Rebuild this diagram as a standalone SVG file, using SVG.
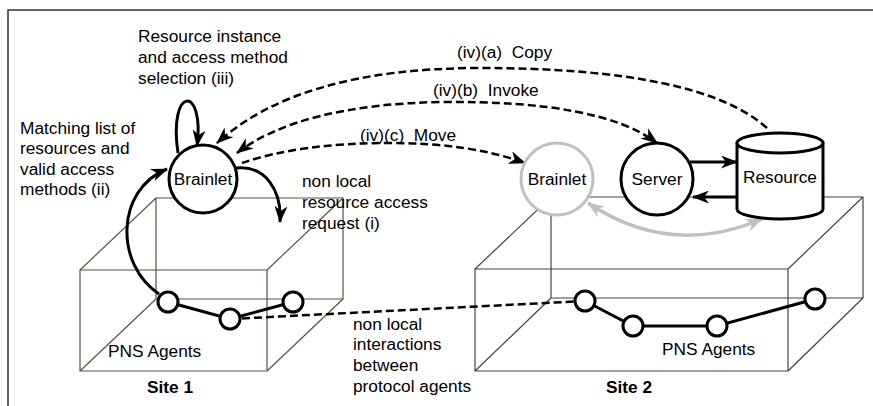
<svg xmlns="http://www.w3.org/2000/svg" width="873" height="406" viewBox="0 0 873 406">
<style>
text{font-family:"Liberation Sans",Arial,sans-serif;font-size:17.3px;fill:#000}
.b{font-weight:bold}
.mid{text-anchor:middle}
.box1{fill:none;stroke:#55553f;stroke-width:1.2}
.box2{fill:none;stroke:#444;stroke-width:1.2}
.node{fill:#fff;stroke:#000;stroke-width:3}
.gnode{fill:#fff;stroke:#c0c0c0;stroke-width:3}
.ag{fill:#fff;stroke:#000;stroke-width:3}
.solid{fill:none;stroke:#000;stroke-width:3}
.dash{fill:none;stroke:#000;stroke-width:2.5;stroke-dasharray:8 4}
.grey{fill:none;stroke:#c0c0c0;stroke-width:3.5}
</style>
<defs>
<marker id="ah" viewBox="0 0 17 13" refX="16" refY="6.5" markerWidth="17" markerHeight="13" markerUnits="userSpaceOnUse" orient="auto-start-reverse"><path d="M0,0 L17,6.5 L0,13 L5,6.5 z" fill="#000"/></marker>
<marker id="ahg" viewBox="0 0 17 13" refX="16" refY="6.5" markerWidth="17" markerHeight="13" markerUnits="userSpaceOnUse" orient="auto-start-reverse"><path d="M0,0 L17,6.5 L0,13 L5,6.5 z" fill="#c0c0c0"/></marker>
</defs>
<path d="M8,406 L8,10 L873,10" fill="none" stroke="#333" stroke-width="1.5"/>
<g id="site1">
<path class="box1" d="M80,270 H267 V371 H80 Z M156,198 H343 V299 H156 Z M80,270 L156,198 M80,371 L156,299 M267,270 L343,198 M267,371 L343,299"/>
<text x="108" y="357">PNS Agents</text>
<text class="b mid" x="170" y="393">Site 1</text>
</g>
<g id="site2">
<path class="box2" d="M475,269 H788 V371 H475 Z M551,197 H863 V298 H551 Z M475,269 L551,197 M475,371 L551,298 M788,269 L863,197 M788,371 L863,298"/>
<text x="662" y="355">PNS Agents</text>
<text class="b mid" x="629" y="393">Site 2</text>
</g>
<g id="connectors">
<path class="solid" d="M168,302 L230,319 L293,302"/>
<path class="solid" d="M585,301 L633,326 L717,326 L815,299"/>
<path class="dash" d="M230,319 L585,301"/>
<path class="solid" marker-end="url(#ah)" d="M159,294 C115,265 115,190 167,169"/>
<path class="solid" marker-end="url(#ah)" d="M178,153 C168,85 205,85 197,146"/>
<path class="solid" marker-end="url(#ah)" d="M236,168 C265,165 282,190 280,222"/>
<path class="dash" marker-end="url(#ah)" d="M767,128 Q700,68 480,68 Q300,68 217,143"/>
<path class="dash" marker-start="url(#ah)" marker-end="url(#ah)" d="M237,153 Q300,105 440,102 Q600,100 657,143"/>
<path class="dash" marker-end="url(#ah)" d="M242,163 Q300,143 390,143 Q470,143 525,163"/>
<path class="solid" marker-end="url(#ah)" d="M690,162 L737,162"/>
<path class="solid" marker-end="url(#ah)" d="M737,197 L693,197"/>
<path class="grey" marker-start="url(#ahg)" marker-end="url(#ahg)" d="M588,203 Q670,258 762,219"/>
</g>
<g id="agents1">
<circle class="ag" cx="168" cy="302" r="10"/>
<circle class="ag" cx="230" cy="319" r="10"/>
<circle class="ag" cx="293" cy="302" r="10"/>
</g>
<g id="agents2">
<circle class="ag" cx="585" cy="301" r="10"/>
<circle class="ag" cx="633" cy="326" r="10"/>
<circle class="ag" cx="717" cy="326" r="10"/>
<circle class="ag" cx="815" cy="299" r="10"/>
</g>
<g id="brainlet1">
<circle class="node" cx="203" cy="179" r="34"/>
<text class="mid" x="203" y="185">Brainlet</text>
</g>
<g id="brainlet2">
<circle class="gnode" cx="557" cy="179" r="36"/>
<text class="mid" x="557" y="185">Brainlet</text>
</g>
<g id="server">
<circle class="node" cx="657" cy="179" r="36"/>
<text class="mid" x="657" y="185">Server</text>
</g>
<g id="resource">
<path class="node" d="M737,143 L737,209 A43,10 0 0 0 823,209 L823,143"/>
<ellipse class="node" cx="780" cy="143" rx="43" ry="10"/>
<text class="mid" x="780" y="183">Resource</text>
</g>
<g id="labels">
<text x="138" y="42">Resource instance</text>
<text x="138" y="63">and access method</text>
<text x="138" y="84">selection (iii)</text>
<text x="20" y="134">Matching list of</text>
<text x="20" y="154">resources and</text>
<text x="20" y="175">valid access</text>
<text x="20" y="195">methods (ii)</text>
<text x="302" y="187">non local</text>
<text x="302" y="208">resource access</text>
<text x="302" y="229">request (i)</text>
<text x="353" y="330">non local</text>
<text x="353" y="350">interactions</text>
<text x="353" y="371">between</text>
<text x="353" y="392">protocol agents</text>
<text xml:space="preserve" x="457" y="58">(iv)(a)  Copy</text>
<text xml:space="preserve" x="433" y="96">(iv)(b)  Invoke</text>
<text xml:space="preserve" x="360" y="141">(iv)(c)  Move</text>
</g>
</svg>
